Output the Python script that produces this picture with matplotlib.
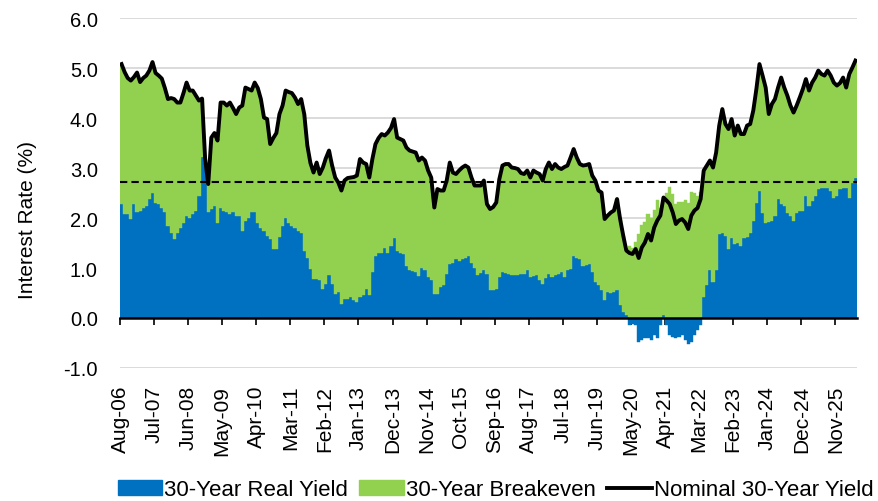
import numpy as np
import matplotlib
matplotlib.use("Agg")
import matplotlib.pyplot as plt
from matplotlib.patches import Patch
from matplotlib.lines import Line2D
from matplotlib.ticker import FormatStrFormatter

plt.rcParams["font.family"] = ["Liberation Sans", "DejaVu Sans"]

BLUE = "#0070C0"
GREEN = "#92D050"
REF_LEVEL = 2.73  # dashed reference level

# x-axis labels, one every 11 months starting Aug-06
tick_labels = ["Aug-06", "Jul-07", "Jun-08", "May-09", "Apr-10", "Mar-11",
               "Feb-12", "Jan-13", "Dec-13", "Nov-14", "Oct-15", "Sep-16",
               "Aug-17", "Jul-18", "Jun-19", "May-20", "Apr-21", "Mar-22",
               "Feb-23", "Jan-24", "Dec-24", "Nov-25"]

# monthly values, Aug-06 .. May-26
nominal_yield = [
    5.08, 4.92, 4.80, 4.75, 4.82,                                      # 2006
    4.91, 4.72, 4.80, 4.85, 4.95, 5.12, 4.90, 4.85, 4.79, 4.60, 4.38, 4.40,  # 2007
    4.38, 4.31, 4.31, 4.50, 4.71, 4.55, 4.55, 4.45, 4.35, 4.39, 3.18, 2.68,  # 2008
    3.61, 3.70, 3.55, 4.31, 4.31, 4.25, 4.31, 4.20, 4.08, 4.21, 4.25, 4.61,  # 2009
    4.58, 4.55, 4.71, 4.60, 4.38, 4.01, 3.98, 3.48, 3.60, 3.70, 4.08, 4.25,  # 2010
    4.55, 4.52, 4.50, 4.41, 4.28, 4.38, 4.08, 3.45, 3.10, 2.91, 3.11, 2.88,  # 2011
    3.01, 3.20, 3.35, 3.05, 2.81, 2.71, 2.55, 2.75, 2.80, 2.81, 2.82, 2.85,  # 2012
    3.18, 3.11, 3.08, 2.81, 3.18, 3.48, 3.60, 3.68, 3.65, 3.71, 3.80, 3.98,  # 2013
    3.61, 3.58, 3.55, 3.41, 3.35, 3.33, 3.31, 3.15, 3.21, 3.15, 2.95, 2.81,  # 2014
    2.21, 2.58, 2.55, 2.55, 2.75, 3.11, 2.91, 2.88, 2.95, 3.01, 3.05, 3.01,  # 2015
    2.81, 2.65, 2.65, 2.65, 2.75, 2.28, 2.18, 2.22, 2.31, 2.78, 3.05, 3.08,  # 2016
    3.08, 3.01, 3.00, 2.98, 2.90, 2.88, 2.95, 2.81, 2.95, 2.91, 2.88, 2.75,  # 2017
    2.98, 3.11, 2.98, 3.08, 3.01, 2.98, 3.02, 3.05, 3.21, 3.38, 3.21, 3.08,  # 2018
    3.05, 3.06, 3.08, 2.85, 2.75, 2.55, 2.51, 1.98, 2.05, 2.11, 2.15, 2.38,  # 2019
    1.98, 1.65, 1.35, 1.30, 1.28, 1.38, 1.20, 1.41, 1.51, 1.68, 1.55, 1.81,  # 2020
    1.95, 2.05, 2.41, 2.35, 2.28, 2.11, 1.88, 1.95, 1.98, 1.91, 1.78, 2.05,  # 2021
    2.15, 2.20, 2.38, 2.95, 3.05, 3.15, 3.01, 3.31, 3.85, 4.18, 3.88, 3.78,  # 2022
    3.98, 3.65, 3.85, 3.68, 3.68, 3.85, 3.88, 4.15, 4.58, 5.08, 4.85, 4.61,  # 2023
    4.08, 4.28, 4.38, 4.61, 4.81, 4.61, 4.45, 4.25, 4.11, 4.25, 4.41, 4.58,  # 2024
    4.78, 4.55, 4.71, 4.81, 4.95, 4.88, 4.85, 4.95, 4.85, 4.71, 4.65, 4.70,  # 2025
    4.81, 4.61, 4.88, 5.01, 5.15,                                      # 2026
]

real_yield = [
    2.28, 2.08, 2.08, 1.98, 2.28,                                      # 2006
    2.12, 2.15, 2.21, 2.25, 2.38, 2.51, 2.31, 2.28, 2.20, 2.12, 1.85, 1.70,  # 2007
    1.58, 1.71, 1.80, 1.91, 2.05, 2.00, 2.08, 2.15, 2.45, 3.22, 3.10, 2.12,  # 2008
    2.18, 2.25, 1.91, 2.21, 2.15, 2.12, 2.08, 2.12, 2.05, 2.05, 1.75, 1.95,  # 2009
    2.01, 2.12, 2.12, 1.91, 1.81, 1.75, 1.65, 1.58, 1.38, 1.38, 1.62, 1.85,  # 2010
    2.01, 1.91, 1.85, 1.81, 1.75, 1.71, 1.35, 1.21, 0.98, 0.78, 0.78, 0.75,  # 2011
    0.58, 0.68, 0.85, 0.68, 0.48, 0.51, 0.28, 0.38, 0.38, 0.41, 0.35, 0.31,  # 2012
    0.41, 0.45, 0.58, 0.45, 0.91, 1.25, 1.30, 1.31, 1.40, 1.31, 1.45, 1.61,  # 2013
    1.35, 1.30, 1.28, 1.05, 0.95, 0.93, 0.91, 0.83, 1.01, 0.95, 0.81, 0.75,  # 2014
    0.48, 0.48, 0.61, 0.65, 0.88, 1.08, 1.10, 1.18, 1.15, 1.18, 1.20, 1.25,  # 2015
    1.11, 1.01, 0.85, 0.90, 0.95, 0.88, 0.55, 0.55, 0.58, 0.81, 0.91, 0.90,  # 2016
    0.88, 0.85, 0.86, 0.85, 0.87, 0.88, 0.95, 0.81, 0.83, 0.85, 0.75, 0.68,  # 2017
    0.80, 0.88, 0.81, 0.85, 0.88, 0.91, 0.81, 0.95, 0.98, 1.25, 1.20, 1.18,  # 2018
    1.05, 1.06, 1.08, 0.91, 0.71, 0.65, 0.55, 0.35, 0.51, 0.50, 0.51, 0.55,  # 2019
    0.25, 0.11, 0.05, -0.15, -0.12, -0.15, -0.48, -0.45, -0.41, -0.40, -0.45, -0.35,  # 2020
    -0.41, -0.15, 0.05, -0.15, -0.35, -0.38, -0.41, -0.38, -0.35, -0.45, -0.52, -0.48,  # 2021
    -0.35, -0.25, -0.15, 0.41, 0.65, 0.95, 0.71, 0.95, 1.68, 1.71, 1.65, 1.38,  # 2022
    1.61, 1.48, 1.50, 1.45, 1.61, 1.63, 1.71, 1.95, 2.31, 2.55, 2.11, 1.91,  # 2023
    1.93, 1.95, 2.05, 2.38, 2.28, 2.25, 2.11, 2.05, 1.95, 2.11, 2.15, 2.15,  # 2024
    2.45, 2.25, 2.35, 2.45, 2.58, 2.61, 2.60, 2.61, 2.55, 2.41, 2.45, 2.58,  # 2025
    2.60, 2.61, 2.41, 2.71, 2.81,                                      # 2026
]

real = np.array(real_yield)
nominal = np.array(nominal_yield)
breakeven = nominal - real
x = np.arange(len(real))

# stacked like Excel: negatives stack below zero, positives above
green_bottom = np.where(breakeven >= 0, np.clip(real, 0, None), np.clip(real, None, 0))

fig = plt.figure(figsize=(8.79, 5.02), dpi=100)
ax = fig.add_axes([0.1365, 0.265, 0.8385, 0.697])

ax.bar(x, real, width=1.0, color=BLUE, edgecolor=BLUE, linewidth=0.3, zorder=2)
ax.bar(x, breakeven, bottom=green_bottom, width=1.0, color=GREEN,
       edgecolor=GREEN, linewidth=0.3, zorder=2)
ax.axhline(REF_LEVEL, color="black", lw=1.5, ls=(0, (3.5, 2)), zorder=3)
ax.plot(x, nominal, color="black", lw=2.8, zorder=4, solid_joinstyle="round")

ax.set_xlim(-0.5, len(x) - 0.5)
ax.set_ylim(-1, 6)
ax.set_yticks(np.arange(-1, 6.1, 1))
ax.yaxis.set_major_formatter(FormatStrFormatter("%.1f"))
ax.grid(axis="y", color="#d4d4d4", lw=1.2)
ax.set_axisbelow(True)

for s in ["left", "right", "top"]:
    ax.spines[s].set_visible(False)
ax.spines["bottom"].set_position(("data", 0))
ax.spines["bottom"].set_linewidth(1.8)
ax.spines["bottom"].set_zorder(5)

tick_pos = np.arange(len(tick_labels)) * 11 - 0.5
ax.set_xticks(tick_pos)
ax.set_xticklabels(tick_labels, rotation=90, fontsize=15)
ax.tick_params(axis="x", direction="out", length=5, width=1.2, pad=43)
ax.tick_params(axis="y", length=0, pad=16, labelsize=14.5)

ax.set_ylabel("Interest Rate (%)", fontsize=15)
ax.yaxis.set_label_coords(-0.113, 0.426)

handles = [Patch(color=BLUE), Patch(color=GREEN),
           Line2D([], [], color="black", lw=2.8)]
labels = ["30-Year Real Yield", "30-Year Breakeven", "Nominal 30-Year Yield"]
fig.legend(handles, labels, loc="center left", bbox_to_anchor=(0.134, 0.022),
           ncol=3, frameon=False, fontsize=16, handlelength=2.0,
           handletextpad=0.1, columnspacing=0.5, borderpad=0, borderaxespad=0)

fig.savefig("out.png", dpi=100)
